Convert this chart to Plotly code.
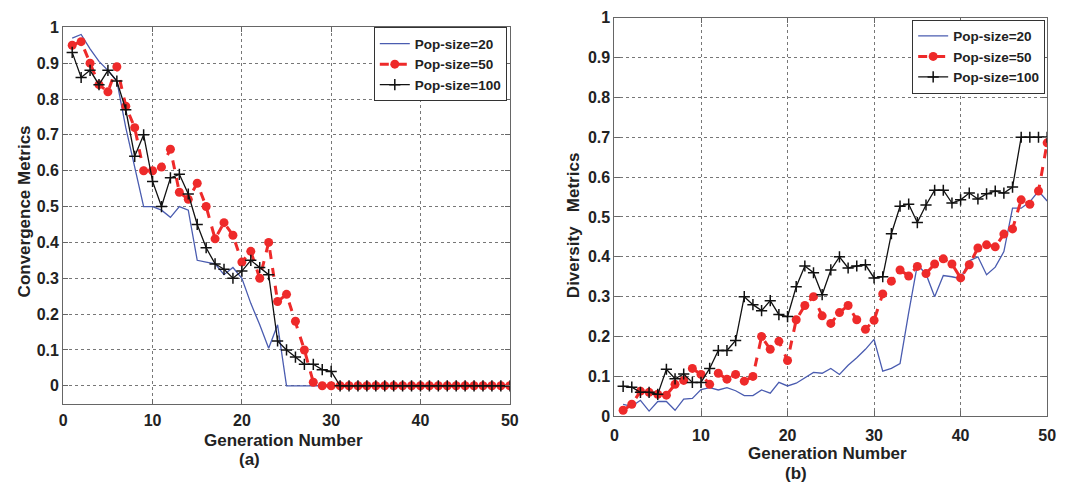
import plotly.graph_objects as go

gens = list(range(1, 51))

conv20 = [0.97, 0.98, 0.94, 0.905, 0.88, 0.85, 0.72, 0.61, 0.50, 0.50,
          0.49, 0.47, 0.50, 0.49, 0.35, 0.345, 0.34, 0.31, 0.33, 0.30,
          0.23, 0.17, 0.105, 0.17, 0, 0, 0, 0, 0, 0,
          0, 0, 0, 0, 0, 0, 0, 0, 0, 0,
          0, 0, 0, 0, 0, 0, 0, 0, 0, 0]
conv50 = [0.95, 0.96, 0.90, 0.84, 0.82, 0.89, 0.78, 0.72, 0.60, 0.60,
          0.61, 0.66, 0.54, 0.52, 0.565, 0.50, 0.41, 0.455, 0.42, 0.345,
          0.375, 0.30, 0.40, 0.235, 0.255, 0.18, 0.10, 0.01, 0, 0,
          0, 0, 0, 0, 0, 0, 0, 0, 0, 0,
          0, 0, 0, 0, 0, 0, 0, 0, 0, 0]
conv100 = [0.93, 0.86, 0.88, 0.84, 0.88, 0.85, 0.77, 0.64, 0.70, 0.57,
           0.50, 0.58, 0.59, 0.535, 0.45, 0.385, 0.34, 0.325, 0.30, 0.32,
           0.35, 0.33, 0.31, 0.125, 0.10, 0.08, 0.06, 0.06, 0.045, 0.04,
           0, 0, 0, 0, 0, 0, 0, 0, 0, 0,
           0, 0, 0, 0, 0, 0, 0, 0, 0, 0]

div20 = [0.03, 0.025, 0.04, 0.013, 0.037, 0.037, 0.015, 0.043, 0.045, 0.067,
         0.072, 0.066, 0.072, 0.064, 0.052, 0.052, 0.066, 0.058, 0.085, 0.076,
         0.083, 0.097, 0.11, 0.108, 0.12, 0.105, 0.128, 0.147, 0.168, 0.193,
         0.113, 0.12, 0.132, 0.26, 0.38, 0.357, 0.30, 0.353, 0.35, 0.345,
         0.39, 0.40, 0.355, 0.374, 0.413, 0.522, 0.522, 0.538, 0.565, 0.54]
div50 = [0.015, 0.03, 0.063, 0.06, 0.055, 0.053, 0.08, 0.09, 0.12, 0.105,
         0.08, 0.108, 0.093, 0.105, 0.088, 0.10, 0.20, 0.168, 0.188, 0.14,
         0.242, 0.278, 0.30, 0.252, 0.233, 0.26, 0.278, 0.242, 0.218, 0.241,
         0.307, 0.339, 0.367, 0.352, 0.376, 0.358, 0.382, 0.395, 0.382, 0.347,
         0.38, 0.422, 0.43, 0.425, 0.457, 0.47, 0.543, 0.532, 0.565, 0.686]
div100 = [0.075, 0.073, 0.06, 0.06, 0.055, 0.118, 0.094, 0.106, 0.085, 0.085,
          0.12, 0.165, 0.165, 0.19, 0.30, 0.28, 0.265, 0.29, 0.255, 0.25,
          0.325, 0.377, 0.36, 0.305, 0.367, 0.40, 0.372, 0.377, 0.38, 0.347,
          0.35, 0.458, 0.527, 0.532, 0.486, 0.53, 0.567, 0.567, 0.535, 0.543,
          0.56, 0.545, 0.558, 0.565, 0.56, 0.575, 0.70, 0.70, 0.70, 0.70]

names = ["Pop-size=20", "Pop-size=50", "Pop-size=100"]

W, H = 1068, 488
FONT = "Liberation Sans, Arial, sans-serif"
BLUE = "#4a5cb0"
RED = "#ee2a2a"
BLACK = "#111111"

fig = go.Figure()


def add_set(ys, xa, ya, leg):
    y20, y50, y100 = ys
    fig.add_trace(go.Scatter(x=gens, y=y20, name=names[0], mode="lines",
                             line=dict(color=BLUE, width=1.3),
                             xaxis=xa, yaxis=ya, legend=leg))
    fig.add_trace(go.Scatter(x=gens, y=y50, name=names[1], mode="lines+markers",
                             line=dict(color=RED, width=3, dash="dash"),
                             marker=dict(color=RED, size=9, symbol="circle"),
                             xaxis=xa, yaxis=ya, legend=leg))
    fig.add_trace(go.Scatter(x=gens, y=y100, name=names[2], mode="lines+markers",
                             line=dict(color=BLACK, width=1.3),
                             marker=dict(color=BLACK, size=8, symbol="cross-thin",
                                         line=dict(color=BLACK, width=1.5)),
                             xaxis=xa, yaxis=ya, legend=leg))


add_set((conv20, conv50, conv100), "x", "y", "legend")
add_set((div20, div50, div100), "x2", "y2", "legend2")

tickfont = dict(family=FONT, size=16, color="#222", weight="bold")
common_axis = dict(showline=True, mirror="ticks", linecolor="#666", linewidth=1.2,
                   ticks="inside", ticklen=5, tickcolor="#666",
                   showgrid=True, gridcolor="#777", griddash="dot", gridwidth=1,
                   zeroline=False, tickfont=tickfont)

legfont = dict(family=FONT, size=13.5, color="#222", weight="bold")

fig.update_layout(
    width=W, height=H,
    margin=dict(l=0, r=0, t=0, b=0),
    paper_bgcolor="white", plot_bgcolor="white",
    xaxis=dict(domain=[60 / W, 512 / W], range=[0, 50], dtick=10, tick0=0,
               anchor="y", ticklabelstandoff=2, **common_axis),
    yaxis=dict(domain=[1 - 410 / H, 1 - 20 / H], range=[-0.05, 1], dtick=0.1, tick0=0,
               anchor="x", **common_axis),
    xaxis2=dict(domain=[618 / W, 1056 / W], range=[0, 50], dtick=10, tick0=0,
                anchor="y2", ticklabelstandoff=4, **common_axis),
    yaxis2=dict(domain=[1 - 423 / H, 1 - 10 / H], range=[0, 1], dtick=0.1, tick0=0,
                anchor="x2", **common_axis),
    legend=dict(x=509 / W, y=1 - 20 / H, xanchor="right", yanchor="top",
                bgcolor="white", bordercolor="#333", borderwidth=1,
                font=legfont, tracegroupgap=0, itemwidth=30),
    legend2=dict(x=1054 / W, y=1 - 12 / H, xanchor="right", yanchor="top",
                 bgcolor="white", bordercolor="#333", borderwidth=1,
                 font=legfont, tracegroupgap=0, itemwidth=30),
    showlegend=True,
)

labfont = dict(family=FONT, size=17, color="#222", weight="bold")
annots = [
    dict(text="Convergence Metrics", x=21 / W, y=1 - 211 / H, textangle=-90),
    dict(text="Generation Number", x=283 / W, y=1 - 448 / H),
    dict(text="(a)", x=249 / W, y=1 - 468 / H),
    dict(text="Diversity   Metrics", x=576 / W, y=1 - 225 / H, textangle=-90),
    dict(text="Generation Number", x=834 / W, y=1 - 462 / H),
    dict(text="(b)", x=802 / W, y=1 - 482 / H),
]
for a in annots:
    fig.add_annotation(xref="paper", yref="paper", showarrow=False,
                       xanchor="center", yanchor="middle", font=labfont, **a)

fig.write_html("out.html")
